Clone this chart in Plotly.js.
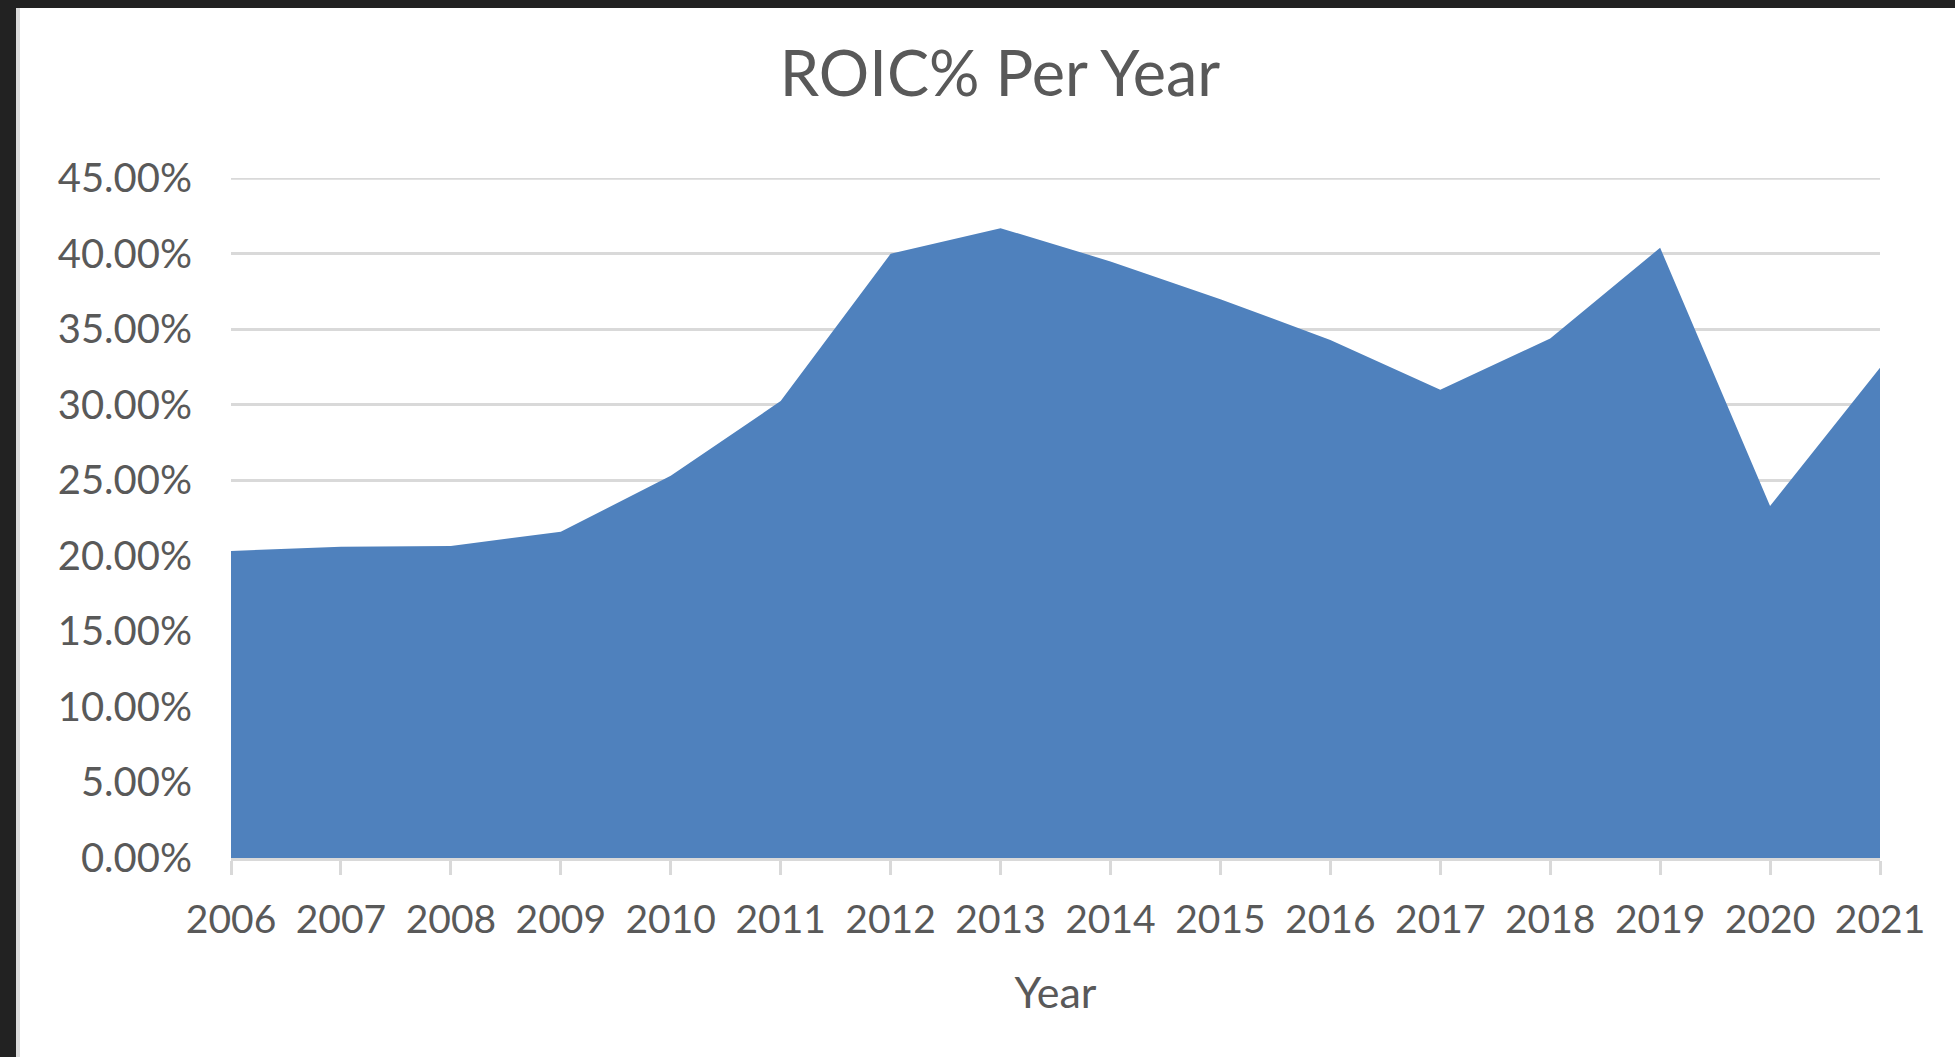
<!DOCTYPE html>
<html>
<head>
<meta charset="utf-8">
<script src="https://cdn.plot.ly/plotly-3.0.1.min.js"></script>
<style>
  html, body { margin: 0; padding: 0; width: 1955px; height: 1057px; background: #222222; overflow: hidden; }
  #edge { position: absolute; left: 16px; top: 8px; width: 4px; height: 1049px; background: #dcdcdc; }
  #chart { position: absolute; left: 20px; top: 8px; width: 1935px; height: 1049px; background: #ffffff; }
</style>
</head>
<body>
<div id="edge"></div>
<div id="chart"></div>
<script>
// ---- data ----
const years = [2006, 2007, 2008, 2009, 2010, 2011, 2012, 2013, 2014, 2015, 2016, 2017, 2018, 2019, 2020, 2021];
const roicPct = [20.33, 20.6, 20.66, 21.6, 25.3, 30.25, 40.0, 41.7, 39.5, 37.0, 34.3, 31.0, 34.4, 40.4, 23.3, 32.45];
const yTickVals = [0, 0.05, 0.10, 0.15, 0.20, 0.25, 0.30, 0.35, 0.40, 0.45];
const yTickText = ['0.00%', '5.00%', '10.00%', '15.00%', '20.00%', '25.00%', '30.00%', '35.00%', '40.00%', '45.00%'];
const xTickText = years.map(String);
const chartTitle = 'ROIC% Per Year';
const xTitle = 'Year';

const textColor = '#595959';
const gridColor = '#D9D9D9';
const fontFam = 'Lato, "Open Sans", sans-serif';

const trace = {
  type: 'scatter',
  mode: 'lines',
  x: years,
  y: roicPct.map(v => v / 100),
  fill: 'tozeroy',
  fillcolor: '#4F81BD',
  line: { width: 0, color: '#4F81BD' },
  hoverinfo: 'x+y'
};

const yMax = yTickVals[yTickVals.length - 1];

const layout = {
  width: 1935,
  height: 1049,
  paper_bgcolor: '#ffffff',
  plot_bgcolor: '#ffffff',
  showlegend: false,
  margin: { l: 210.7, r: 75, t: 170, b: 199.2, pad: 0 },
  font: { family: fontFam, color: textColor },
  title: {
    text: chartTitle,
    font: { family: fontFam, size: 63, color: textColor },
    x: (1000 - 20) / 1935,
    xanchor: 'center',
    xref: 'container',
    y: 1 - (66 / 1049),
    yref: 'container',
    yanchor: 'middle'
  },
  shapes: [{
    type: 'line',
    xref: 'paper', yref: 'y',
    x0: 0, x1: 1, y0: yMax, y1: yMax,
    line: { color: gridColor, width: 3 },
    layer: 'below'
  }],
  xaxis: {
    type: 'linear',
    range: [2006, 2021],
    tickvals: years,
    ticktext: xTickText,
    ticks: 'outside',
    ticklen: 14,
    tickwidth: 3,
    tickcolor: gridColor,
    showline: true,
    linecolor: gridColor,
    linewidth: 3,
    showgrid: false,
    zeroline: false,
    tickfont: { family: fontFam, size: 39, color: textColor },
    ticklabelstandoff: 11,
    automargin: false,
    title: { text: xTitle, font: { family: fontFam, size: 43, color: textColor }, standoff: 39 }
  },
  yaxis: {
    range: [0, 0.4502],
    tickvals: yTickVals,
    ticktext: yTickText,
    ticks: '',
    showline: false,
    showgrid: true,
    gridcolor: gridColor,
    gridwidth: 3,
    zeroline: false,
    tickfont: { family: fontFam, size: 40, color: textColor },
    ticklabelstandoff: 38,
    automargin: false
  }
};

Plotly.newPlot('chart', [trace], layout, { displayModeBar: false, staticPlot: true });
</script>
</body>
</html>
